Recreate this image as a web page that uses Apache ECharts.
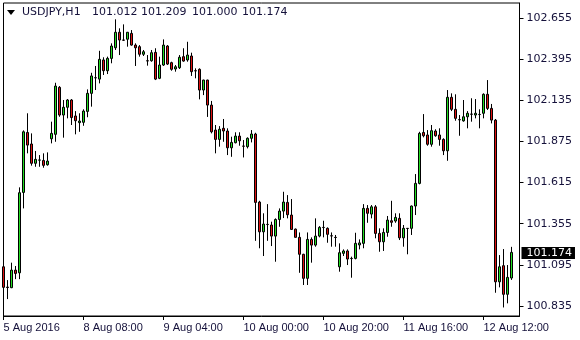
<!DOCTYPE html>
<html><head><meta charset="utf-8">
<script src="https://cdn.jsdelivr.net/npm/echarts@6/dist/echarts.min.js"></script>
<style>html,body{margin:0;padding:0;background:#fff}#c{width:580px;height:340px}</style>
</head><body><div id="c"></div>
<script>
const symbolName = 'USDJPY,H1';
const tickLabels = ['5 Aug 2016', '8 Aug 08:00', '9 Aug 04:00', '10 Aug 00:00', '10 Aug 20:00', '11 Aug 16:00', '12 Aug 12:00'];
const yTicks = [100.835, 101.095, 101.355, 101.615, 101.875, 102.135, 102.395, 102.655];

const open = [
101.083,100.955,100.951,101.062,101.045,101.553,101.932,101.859,101.737,101.757,
101.755,101.728,101.892,101.920,102.217,102.042,102.091,102.137,102.036,101.994,
101.996,102.065,102.179,102.278,102.269,102.390,102.322,102.400,102.467,102.565,
102.516,102.521,102.558,102.484,102.474,102.426,102.385,102.385,102.438,102.274,
102.358,102.478,102.373,102.333,102.341,102.411,102.390,102.415,102.322,102.331,
102.200,102.263,102.105,101.947,101.888,101.958,101.941,101.835,101.867,101.909,
101.846,101.842,101.895,101.922,101.492,101.304,101.351,101.347,101.277,101.382,
101.435,101.490,101.410,101.321,101.269,101.162,101.010,101.256,101.220,101.277,
101.332,101.326,101.279,101.269,101.083,101.168,101.183,101.136,101.136,101.221,
101.231,101.452,101.416,101.462,101.294,101.241,101.300,101.374,101.372,101.389,
101.266,101.326,101.326,101.467,101.610,101.932,101.916,101.857,101.941,101.916,
101.888,101.816,102.154,102.078,102.013,102.005,102.031,102.048,102.042,102.046,
102.053,102.173,102.084,102.010,100.988,101.090,100.909,101.012];
const high = [
101.147,100.999,101.109,101.088,101.585,101.945,102.053,101.926,101.815,101.789,
101.800,101.806,102.000,102.246,102.225,102.137,102.143,102.143,102.067,102.053,
102.078,102.204,102.309,102.352,102.448,102.407,102.411,102.495,102.647,102.590,
102.615,102.567,102.579,102.495,102.484,102.453,102.421,102.453,102.464,102.411,
102.520,102.484,102.379,102.358,102.421,102.464,102.505,102.436,102.337,102.337,
102.265,102.265,102.131,101.979,101.972,102.017,101.958,101.905,101.933,101.933,
101.884,101.901,101.947,101.930,101.500,101.421,101.479,101.368,101.389,101.452,
101.557,101.536,101.511,101.325,101.300,101.165,101.300,101.269,101.389,101.340,
101.374,101.332,101.300,101.284,101.231,101.193,101.193,101.147,101.298,101.256,
101.479,101.473,101.473,101.473,101.326,101.326,101.404,101.500,101.421,101.421,
101.347,101.328,101.470,101.669,101.936,102.048,101.947,101.979,101.952,101.958,
101.895,102.200,102.179,102.173,102.042,102.137,102.067,102.148,102.143,102.078,
102.179,102.263,102.112,102.017,101.157,101.195,101.094,101.209];
const low = [
100.862,100.879,100.948,101.005,101.005,101.452,101.800,101.722,101.715,101.715,
101.709,101.722,101.863,101.873,102.031,101.899,102.021,101.979,101.920,101.936,
101.974,102.028,102.095,102.200,102.242,102.295,102.301,102.369,102.453,102.421,
102.510,102.474,102.480,102.352,102.411,102.415,102.354,102.379,102.263,102.269,
102.352,102.358,102.322,102.316,102.333,102.379,102.379,102.289,102.274,102.141,
102.168,102.030,101.926,101.800,101.842,101.873,101.789,101.778,101.863,101.848,
101.774,101.831,101.869,101.247,101.200,101.151,101.247,101.214,101.115,101.336,
101.391,101.389,101.317,101.268,101.045,100.968,100.968,101.109,101.210,101.269,
101.269,101.235,101.210,101.210,101.052,101.151,101.094,101.014,101.130,101.193,
101.200,101.361,101.389,101.263,101.178,101.183,101.273,101.336,101.361,101.252,
101.210,101.162,101.284,101.410,101.604,101.901,101.848,101.842,101.905,101.848,
101.789,101.753,102.067,102.006,101.911,102.000,101.958,102.000,102.021,101.958,
102.021,102.074,101.989,100.919,100.953,100.826,100.852,101.000];
const close = [
100.953,100.952,101.062,101.041,101.551,101.936,101.852,101.737,101.762,101.758,
101.724,101.751,101.926,102.225,102.042,102.091,102.137,102.026,102.006,102.004,
102.067,102.179,102.289,102.277,102.394,102.322,102.400,102.478,102.565,102.516,
102.515,102.565,102.484,102.467,102.426,102.442,102.384,102.436,102.269,102.358,
102.484,102.364,102.331,102.347,102.407,102.383,102.421,102.316,102.321,102.200,
102.263,102.105,101.936,101.888,101.952,101.941,101.835,101.869,101.909,101.879,
101.845,101.895,101.922,101.490,101.304,101.353,101.350,101.277,101.382,101.435,
101.492,101.412,101.319,101.269,101.162,101.010,101.256,101.220,101.277,101.332,
101.331,101.288,101.278,101.268,101.172,101.183,101.132,101.135,101.231,101.234,
101.452,101.421,101.462,101.294,101.241,101.300,101.378,101.364,101.395,101.266,
101.326,101.325,101.467,101.610,101.926,101.911,101.857,101.943,101.911,101.888,
101.816,102.154,102.078,102.021,102.012,102.031,102.053,102.047,102.053,102.045,
102.173,102.084,102.010,100.988,101.083,100.909,101.016,101.174];

// hourly category axis (trading hours only), plus 2 empty slots of right shift
const categories = [];
(function () {
  let t = Date.UTC(2016, 7, 5, 12);
  while (categories.length < open.length + 2) {
    const d = new Date(t);
    const wd = d.getUTCDay();
    if (wd !== 0 && wd !== 6) {
      categories.push(d.toISOString().slice(0, 16).replace('T', ' '));
    }
    t += 3600000;
  }
})();

const candles = open.map((o, i) => [o, close[i], low[i], high[i]]);
const last = open.length - 1;
const textColor = '#14103a';

const chart = echarts.init(document.getElementById('c'), null, {renderer: 'canvas'});
chart.setOption({
  animation: false,
  backgroundColor: '#ffffff',
  textStyle: {fontFamily: 'DejaVu Sans'},
  grid: {left: 3.5, right: 60.5, top: 3, bottom: 24, show: true, borderColor: '#000', borderWidth: 1, backgroundColor: '#fff'},
  xAxis: {
    type: 'category',
    data: categories,
    boundaryGap: false,
    axisLine: {show: true, lineStyle: {color: '#000', width: 1}},
    axisTick: {show: true, interval: 19, length: 4, lineStyle: {color: '#000'}},
    axisLabel: {
      interval: 19, align: 'left', margin: 6,
      color: textColor, fontFamily: 'Liberation Sans', fontSize: 11,
      formatter: (v, idx) => tickLabels[idx / 20] || ''
    },
    splitLine: {show: false}
  },
  yAxis: {
    type: 'value',
    position: 'right',
    scale: true,
    min: 100.772,
    max: 102.750,
    axisLine: {show: true, lineStyle: {color: '#000', width: 1}},
    axisTick: {show: true, length: 4, customValues: yTicks, lineStyle: {color: '#000'}},
    axisLabel: {
      customValues: yTicks, margin: 7, color: textColor,
      fontFamily: 'DejaVu Sans', fontSize: 11, padding: [3, 0, 0, 0],
      formatter: v => v.toFixed(3)
    },
    splitLine: {show: false}
  },
  graphic: [
    {type: 'polygon', shape: {points: [[7, 10], [15, 10], [11, 15]]}, style: {fill: '#000'}},
    {type: 'text', left: 22, top: 7, style: {text: symbolName, font: '11px "DejaVu Sans"', fill: textColor}},
    {type: 'text', left: 92, top: 7, style: {text: open[last].toFixed(3), font: '11px "DejaVu Sans"', fill: textColor}},
    {type: 'text', left: 141, top: 7, style: {text: high[last].toFixed(3), font: '11px "DejaVu Sans"', fill: textColor}},
    {type: 'text', left: 192, top: 7, style: {text: low[last].toFixed(3), font: '11px "DejaVu Sans"', fill: textColor}},
    {type: 'text', left: 242, top: 7, style: {text: close[last].toFixed(3), font: '11px "DejaVu Sans"', fill: textColor}}
  ],
  series: [{
    type: 'candlestick',
    data: candles,
    barWidth: 2,
    itemStyle: {
      color: '#22dd22', color0: '#dd1111',
      borderColor: '#000', borderColor0: '#000', borderColorDoji: '#000', borderWidth: 1
    },
    markLine: {
      silent: true,
      symbol: ['none', 'none'],
      lineStyle: {color: 'rgba(0,0,0,0)', width: 1, type: 'solid'},
      label: {
        show: true, position: 'end', distance: 2,
        backgroundColor: '#000', color: '#fff',
        fontFamily: 'DejaVu Sans', fontSize: 11, lineHeight: 11,
        padding: [1, 3, 0, 5],
        formatter: () => close[last].toFixed(3)
      },
      data: [{yAxis: close[last]}]
    }
  }]
});
</script>
</body></html>
